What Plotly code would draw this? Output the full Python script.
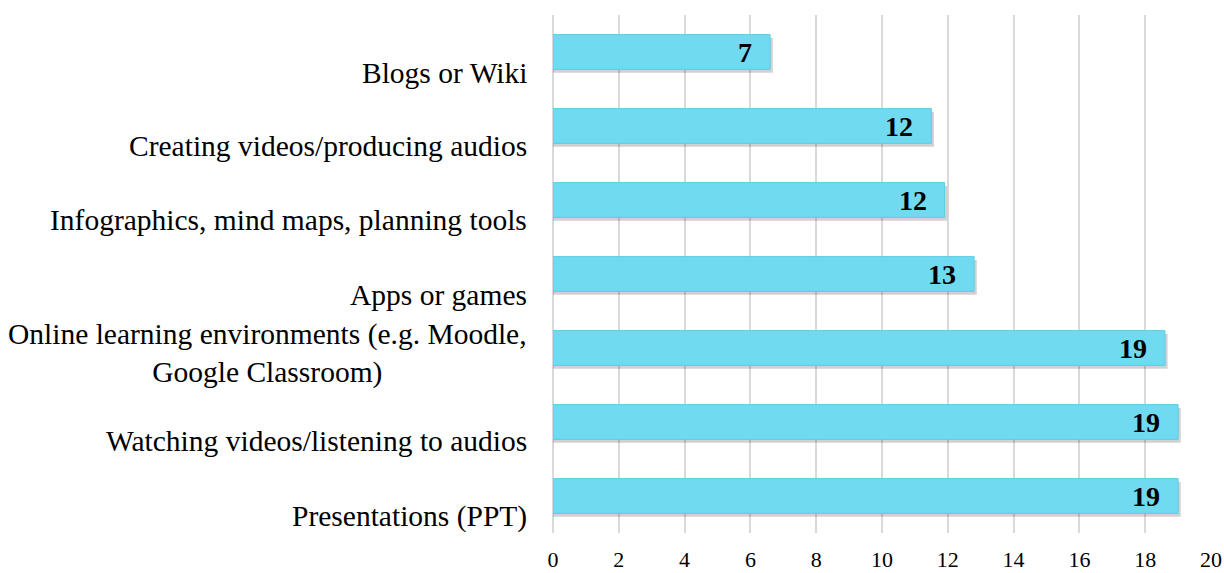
import plotly.graph_objects as go

categories = [
    "Presentations (PPT)",
    "Watching videos/listening to audios",
    "Online learning environments (e.g. Moodle,<br>Google Classroom)",
    "Apps or games",
    "Infographics, mind maps, planning tools",
    "Creating videos/producing audios",
    "Blogs or Wiki",
]
bar_lengths = [19.0, 19.0, 18.6, 12.8, 11.9, 11.5, 6.6]
value_labels = ["19", "19", "19", "13", "12", "12", "7"]
label_yshift = [-20, -19, -5, -21, -20, -20, -21]
x_ticks = [0, 2, 4, 6, 8, 10, 12, 14, 16, 18, 20]

positions = list(range(len(categories)))
font_family = "Liberation Serif"
cat_size = 29.5

fig = go.Figure()

# soft shadow
fig.add_trace(go.Bar(
    x=[v + 0.08 for v in bar_lengths],
    y=[p - 0.045 for p in positions],
    orientation="h",
    width=0.47,
    marker=dict(color="rgba(0,0,0,0.18)", line=dict(width=0)),
    hoverinfo="skip",
    showlegend=False,
))

fig.add_trace(go.Bar(
    x=bar_lengths,
    y=positions,
    orientation="h",
    width=0.47,
    marker=dict(color="#6fdaf0", line=dict(color="#5fcde4", width=1)),
    showlegend=False,
))

# value labels inside bar ends
for p, v, t in zip(positions, bar_lengths, value_labels):
    fig.add_annotation(
        x=v, y=p, xref="x", yref="y", text=t, showarrow=False,
        xanchor="right", yanchor="middle", xshift=-16, yshift=0,
        font=dict(family=font_family, size=28, color="black", weight="bold"),
    )

# category labels
for p, c, ys in zip(positions, categories, label_yshift):
    fig.add_annotation(
        x=0, xref="paper", y=p, yref="y",
        text=c, showarrow=False,
        xanchor="right", yanchor="middle", align="center",
        xshift=-24, yshift=ys,
        font=dict(family=font_family, size=cat_size, color="black"),
    )

fig.update_layout(
    width=1224, height=573,
    margin=dict(l=553, r=13, t=15, b=40),
    plot_bgcolor="white", paper_bgcolor="white",
    bargap=0.5,
    barmode="overlay",
    font=dict(family=font_family, size=22, color="black"),
)
fig.update_xaxes(
    range=[0, 20], tickvals=x_ticks, automargin=False,
    showgrid=True, gridcolor="#d9d9d9", gridwidth=1.5,
    zeroline=True, zerolinecolor="#d9d9d9", zerolinewidth=1.5,
    showline=False, ticks="", ticklen=0, ticklabelstandoff=11,
    tickfont=dict(family=font_family, size=22, color="black"),
)
fig.update_yaxes(
    range=[-0.5, 6.5], showticklabels=False, showgrid=False, automargin=False,
    zeroline=False, showline=False, ticks="",
)

fig.write_html("out.html", config={"displayModeBar": False},
               post_script="document.body.style.margin='0';")
